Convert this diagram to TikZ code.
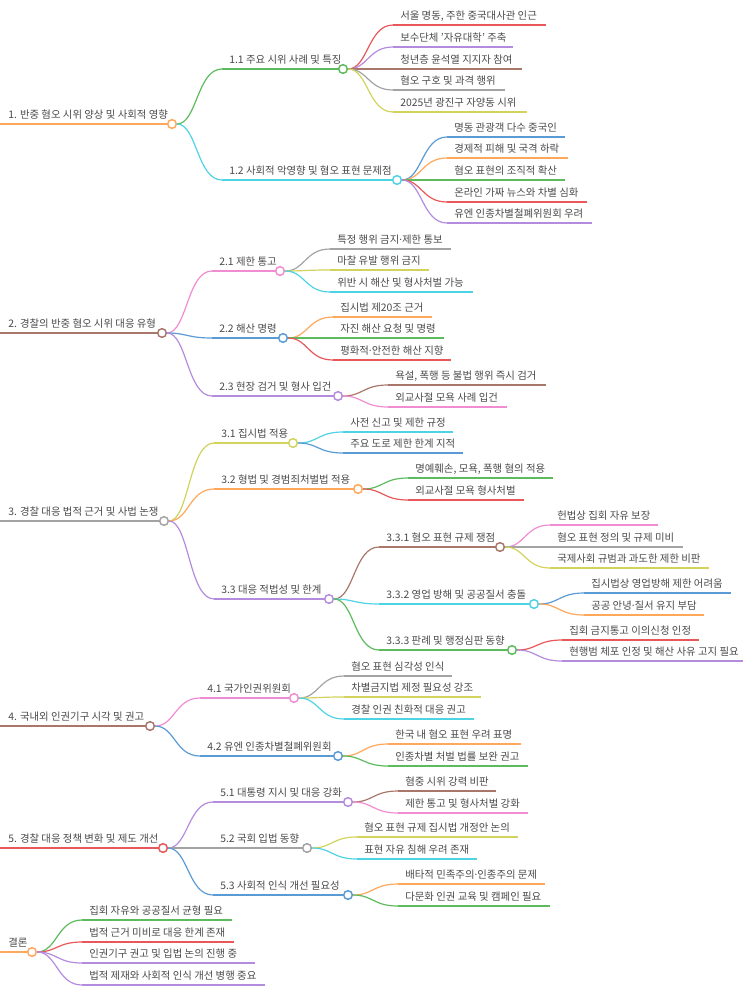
\documentclass[tikz,border=0pt]{standalone}
\usepackage{fontspec}
\setmainfont{Noto Sans CJK KR}
\newfontfamily\latinfont{Noto Sans}
\newcommand{\mdot}{{\latinfont ·}}
\definecolor{ink}{HTML}{4A4A4A}
\definecolor{cRed}{HTML}{E8575A}
\definecolor{cPurple}{HTML}{B48CDE}
\definecolor{cBrown}{HTML}{A9766B}
\definecolor{cGray}{HTML}{A3A3A3}
\definecolor{cOlive}{HTML}{D2D25C}
\definecolor{cBlue}{HTML}{5B9BD5}
\definecolor{cOrange}{HTML}{FFA75A}
\definecolor{cGreen}{HTML}{5DBB5D}
\definecolor{cCyan}{HTML}{4DD3E3}
\definecolor{cPink}{HTML}{F08CD2}
\usetikzlibrary{calc}

\begin{document}
\begin{tikzpicture}[x=0.75pt, y=-0.75pt,
    ul/.style={line width=0.9pt},
    lbl/.style={anchor=base west, inner sep=0pt, text=ink, font=\fontsize{7.8}{9}\selectfont},
    dot/.style={circle, fill=white, line width=1.1pt, minimum size=6.5pt, inner sep=0pt}]
    \useasboundingbox (0,0) rectangle (743,989);

    % Main topics
    \foreach \n/\y/\xe/\c/\lab in {1/124/172/cOrange/{1. 반중 혐오 시위 양상 및 사회적 영향},
            2/333/162/cBrown/{2. 경찰의 반중 혐오 시위 대응 유형},
            3/521/164/cGray/{3. 경찰 대응 법적 근거 및 사법 논쟁},
            4/726/150/cBrown/{4. 국내외 인권기구 시각 및 권고},
            5/848/163/cRed/{5. 경찰 대응 정책 변화 및 제도 개선},
            6/952/32/cOrange/{결론}} {
        \draw[ul, \c] (0,\y) -- (\xe,\y);
        \node[lbl] (t\n) at (8,\y-6) {\lab};
        \node[dot, draw=\c] (d\n) at (\xe,\y) {};
    }

    % Sub topics (parent first)
    \foreach \n/\p/\xs/\y/\xe/\c/\lab in {11/1/222/69/343/cGreen/{1.1 주요 시위 사례 및 특징},
            12/1/222/180/397/cCyan/{1.2 사회적 악영향 및 혐오 표현 문제점},
            21/2/212/271/280/cPink/{2.1 제한 통고},
            22/2/212/338/283/cBlue/{2.2 해산 명령},
            23/2/212/396/338/cPurple/{2.3 현장 검거 및 형사 입건},
            31/3/214/443/293/cOlive/{3.1 집시법 적용},
            32/3/214/489/358/cOrange/{3.2 형법 및 경범죄처벌법 적용},
            33/3/214/599/329/cPurple/{3.3 대응 적법성 및 한계},
            331/33/379/547/500/cBrown/{3.3.1 혐오 표현 규제 쟁점},
            332/33/379/604/534/cCyan/{3.3.2 영업 방해 및 공공질서 충돌},
            333/33/379/650/512/cGreen/{3.3.3 판례 및 행정심판 동향},
            41/4/200/698/294/cPink/{4.1 국가인권위원회},
            42/4/200/756/338/cBlue/{4.2 유엔 인종차별철폐위원회},
            51/5/213/802/348/cPurple/{5.1 대통령 지시 및 대응 강화},
            52/5/213/848/307/cGray/{5.2 국회 입법 동향},
            53/5/213/895/348/cBlue/{5.3 사회적 인식 개선 필요성}} {
        \draw[ul, \c] (\xs,\y) coordinate (a\n) -- (\xe,\y);
        \node[lbl] (t\n) at (\xs+7,\y-6) {\lab};
        \draw[ul, \c] (d\p) .. controls +(25,0) and +(-25,0) .. (a\n);
        \node[dot, draw=\c] (d\n) at (\xe,\y) {};
    }

    % Leaves
    \foreach \p/\xs/\y/\xe/\c/\lab [count=\i] in {11/393/25/546/cRed/{서울 명동, 주한 중국대사관 인근},
            11/393/47/513/cPurple/{보수단체 '자유대학' 주축},
            11/393/69/522/cBrown/{청년층 윤석열 지지자 참여},
            11/393/90/505/cGray/{혐오 구호 및 과격 행위},
            11/393/112/527/cOlive/{2025년 광진구 자양동 시위},
            12/447/137/565/cBlue/{명동 관광객 다수 중국인},
            12/447/158/568/cOrange/{경제적 피해 및 국격 하락},
            12/447/180/565/cGreen/{혐오 표현의 조직적 확산},
            12/447/202/587/cRed/{온라인 가짜 뉴스와 차별 심화},
            12/447/223/592/cPurple/{유엔 인종차별철폐위원회 우려},
            21/330/249/451/cGray/{특정 행위 금지\mdot 제한 통보},
            21/330/270/429/cOlive/{마찰 유발 행위 금지},
            21/330/292/473/cCyan/{위반 시 해산 및 형사처벌 가능},
            22/333/317/432/cOrange/{집시법 제20조 근거},
            22/333/338/444/cGreen/{자진 해산 요청 및 명령},
            22/333/360/451/cRed/{평화적\mdot 안전한 해산 지향},
            23/388/385/546/cBrown/{욕설, 폭행 등 불법 행위 즉시 검거},
            23/388/407/507/cPink/{외교사절 모욕 사례 입건},
            31/343/432/453/cCyan/{사전 신고 및 제한 규정},
            31/343/453/463/cBlue/{주요 도로 제한 한계 지적},
            32/408/478/553/cGreen/{명예훼손, 모욕, 폭행 혐의 적용},
            32/408/500/524/cRed/{외교사절 모욕 형사처벌},
            331/550/525/658/cPink/{헌법상 집회 자유 보장},
            331/550/547/683/cGray/{혐오 표현 정의 및 규제 미비},
            331/550/568/709/cOlive/{국제사회 규범과 과도한 제한 비판},
            332/584/593/731/cBlue/{집시법상 영업방해 제한 어려움},
            332/584/615/704/cOrange/{공공 안녕\mdot 질서 유지 부담},
            333/562/640/699/cRed/{집회 금지통고 이의신청 인정},
            333/562/661/743/cPurple/{현행범 체포 인정 및 해산 사유 고지 필요},
            41/344/676/452/cGray/{혐오 표현 심각성 인식},
            41/344/697/481/cOlive/{차별금지법 제정 필요성 강조},
            41/344/719/474/cCyan/{경찰 인권 친화적 대응 권고},
            42/388/744/521/cOrange/{한국 내 혐오 표현 우려 표명},
            42/388/766/528/cGreen/{인종차별 처벌 법률 보완 권고},
            51/398/791/496/cBrown/{혐중 시위 강력 비판},
            51/398/813/528/cPink/{제한 통고 및 형사처벌 강화},
            52/357/837/518/cOlive/{혐오 표현 규제 집시법 개정안 논의},
            52/357/859/477/cCyan/{표현 자유 침해 우려 존재},
            53/398/884/545/cOrange/{배타적 민족주의\mdot 인종주의 문제},
            53/398/906/550/cGreen/{다문화 인권 교육 및 캠페인 필요},
            6/82/920/232/cGreen/{집회 자유와 공공질서 균형 필요},
            6/82/942/234/cRed/{법적 근거 미비로 대응 한계 존재},
            6/82/963/255/cPurple/{인권기구 권고 및 입법 논의 진행 중},
            6/82/985/265/cPurple/{법적 제재와 사회적 인식 개선 병행 중요}} {
        \draw[ul, \c] (\xs,\y) coordinate (leaf\i) -- (\xe,\y);
        \node[lbl] (tl\i) at (\xs+7,\y-6) {\lab};
        \draw[ul, \c] (d\p) .. controls +(25,0) and +(-25,0) .. (leaf\i);
    }
\end{tikzpicture}
\end{document}
